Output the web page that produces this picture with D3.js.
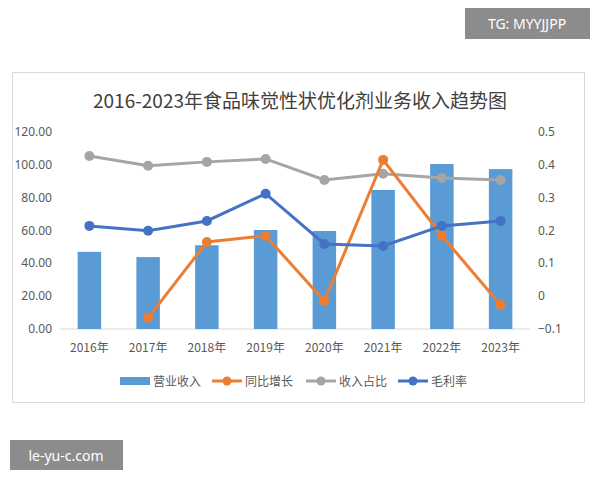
<!DOCTYPE html><html><head><meta charset="utf-8"><script src="https://cdn.jsdelivr.net/npm/d3@7"></script>
<style>body{margin:0;background:#fff;font-family:"Noto Sans CJK SC","Noto Sans",sans-serif}</style></head><body><svg id="c" width="600" height="480"></svg>
<script>
const years=["2016年","2017年","2018年","2019年","2020年","2021年","2022年","2023年"];
const revenue=[47,43.8,51,60.3,59.7,84.7,100.5,97.4];
const yoy=[null,-0.066,0.165,0.184,-0.015,0.415,0.184,-0.027];
const share=[0.427,0.397,0.409,0.418,0.354,0.373,0.36,0.354];
const margin=[0.214,0.199,0.229,0.312,0.159,0.153,0.214,0.229];
const leftTicks=[0,20,40,60,80,100,120];
const rightTicks=[-0.1,0,0.1,0.2,0.3,0.4,0.5];
const svg=d3.select("#c");
svg.append("rect").attr("x",12.5).attr("y",72.5).attr("width",572).attr("height",330).attr("fill","#fff").attr("stroke","#d9d9d9");
svg.append("rect").attr("x",465).attr("y",8).attr("width",125).attr("height",31).attr("fill","#8c8c8c");
svg.append("text").attr("x",527).attr("y",29).attr("text-anchor","middle").attr("fill","#fff").attr("font-size",14).attr("font-family","Noto Sans").text("TG: MYYJJPP");
svg.append("rect").attr("x",10).attr("y",440).attr("width",113).attr("height",30).attr("fill","#8c8c8c");
svg.append("text").attr("x",66).attr("y",461).attr("text-anchor","middle").attr("fill","#fff").attr("font-size",14).attr("font-family","Noto Sans").text("le-yu-c.com");
svg.append("text").attr("x",300).attr("y",108).attr("text-anchor","middle").attr("fill","#404040").attr("font-size",19).text("2016-2023年食品味觉性状优化剂业务收入趋势图");
const x=d3.scaleBand().domain(years).range([60,530]).paddingInner(0.6).paddingOuter(0.3);
const yl=d3.scaleLinear().domain([0,120]).range([329,132]);
const yr=d3.scaleLinear().domain([-0.1,0.5]).range([329,132]);
const cx=d=>x(d)+x.bandwidth()/2;
svg.append("g").selectAll("line").data(leftTicks).join("line").attr("x1",60).attr("x2",530).attr("y1",d=>yl(d)).attr("y2",d=>yl(d)).attr("stroke",d=>d===0?"#d9d9d9":"none");
svg.append("g").selectAll("text").data(leftTicks).join("text").attr("x",52).attr("y",d=>yl(d)+4).attr("text-anchor","end").attr("font-size",12).attr("fill","#595959").attr("font-family","Noto Sans").text(d=>d.toFixed(2));
svg.append("g").selectAll("text").data(rightTicks).join("text").attr("x",538).attr("y",d=>yr(d)+4).attr("font-size",12).attr("fill","#595959").attr("font-family","Noto Sans").text(d=>d3.format("")(+d.toFixed(1)));
svg.append("g").selectAll("text").data(years).join("text").attr("x",cx).attr("y",352).attr("text-anchor","middle").attr("font-size",12).attr("fill","#595959").text(d=>d);
svg.append("g").selectAll("rect").data(revenue).join("rect").attr("x",(d,i)=>x(years[i])).attr("width",x.bandwidth()).attr("y",d=>yl(d)).attr("height",d=>yl(0)-yl(d)).attr("fill","#5b9bd5");
function series(data,color){
  const pts=data.map((v,i)=>[years[i],v]).filter(p=>p[1]!==null);
  svg.append("path").datum(pts).attr("d",d3.line().x(p=>cx(p[0])).y(p=>yr(p[1]))).attr("fill","none").attr("stroke",color).attr("stroke-width",3);
  svg.append("g").selectAll("circle").data(pts).join("circle").attr("cx",p=>cx(p[0])).attr("cy",p=>yr(p[1])).attr("r",5).attr("fill",color);
}
series(share,"#a5a5a5");series(yoy,"#ed7d31");series(margin,"#4472c4");
const leg=[["营业收入","#5b9bd5","bar"],["同比增长","#ed7d31"],["收入占比","#a5a5a5"],["毛利率","#4472c4"]];
const lx=[120,212,306,398];
leg.forEach((l,i)=>{const g=svg.append("g").attr("transform",`translate(${lx[i]},381)`);
 if(l[2])g.append("rect").attr("x",0).attr("y",-4).attr("width",30).attr("height",8).attr("fill",l[1]);
 else{g.append("line").attr("x1",0).attr("x2",30).attr("stroke",l[1]).attr("stroke-width",3);g.append("circle").attr("cx",15).attr("r",4.5).attr("fill",l[1]);}
 g.append("text").attr("x",33).attr("y",4.5).attr("font-size",12).attr("fill","#595959").text(l[0]);});
</script></body></html>
